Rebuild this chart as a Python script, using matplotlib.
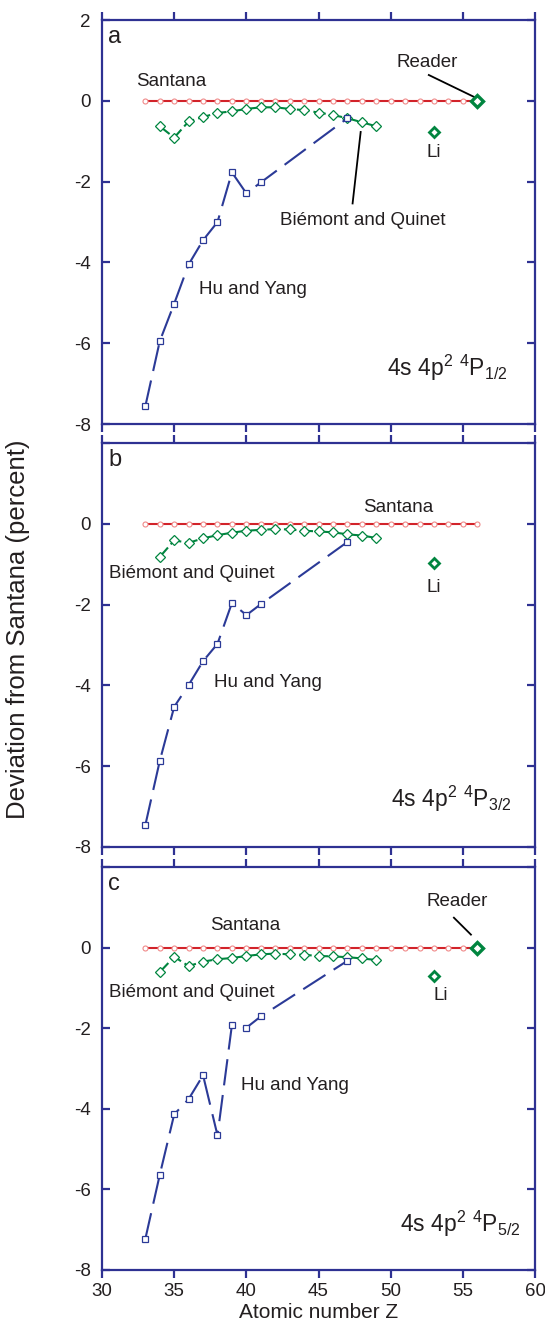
import matplotlib.pyplot as plt
from matplotlib import ticker

plt.rcParams['font.family'] = ['Liberation Sans', 'DejaVu Sans']
plt.rcParams['mathtext.fontset'] = 'custom'
plt.rcParams['mathtext.rm'] = 'Liberation Sans'
plt.rcParams['mathtext.it'] = 'Liberation Sans:italic'
plt.rcParams['lines.scale_dashes'] = False

# atomic numbers for each data set
z_santana = [33, 34, 35, 36, 37, 38, 39, 40, 41, 42, 43, 44,
             45, 46, 47, 48, 49, 50, 51, 52, 53, 54, 55, 56]
z_bq = [34, 35, 36, 37, 38, 39, 40, 41, 42, 43, 44, 45, 46, 47, 48, 49]
z_hy = [33, 34, 35, 36, 37, 38, 39, 40, 41, 47]
z_li = 53
z_reader = 56

santana = [0.0, 0.0, 0.0, 0.0, 0.0, 0.0, 0.0, 0.0, 0.0, 0.0, 0.0, 0.0,
           0.0, 0.0, 0.0, 0.0, 0.0, 0.0, 0.0, 0.0, 0.0, 0.0, 0.0, 0.0]

# 4s4p2 4P1/2
bq_a = [-0.63, -0.91, -0.51, -0.40, -0.30, -0.26, -0.20, -0.16,
        -0.16, -0.20, -0.23, -0.29, -0.35, -0.43, -0.53, -0.63]
hy_a = [-7.56, -5.95, -5.02, -4.05, -3.45, -3.00, -1.77, -2.29, -2.02, -0.43]
li_a = -0.76
reader_a = 0.0

# 4s4p2 4P3/2
bq_b = [-0.82, -0.41, -0.47, -0.36, -0.28, -0.22, -0.17, -0.15,
        -0.13, -0.14, -0.17, -0.19, -0.21, -0.26, -0.29, -0.35]
hy_b = [-7.46, -5.87, -4.53, -3.99, -3.40, -2.97, -1.96, -2.26, -1.99, -0.45]
li_b = -0.98

# 4s4p2 4P5/2
bq_c = [-0.61, -0.23, -0.46, -0.35, -0.29, -0.26, -0.21, -0.17,
        -0.15, -0.17, -0.18, -0.21, -0.22, -0.24, -0.27, -0.31]
hy_c = [-7.23, -5.64, -4.14, -3.76, -3.17, -4.66, -1.92, -1.99, -1.71, -0.33]
li_c = -0.70
reader_c = 0.0

x_ticks = [30, 35, 40, 45, 50, 55, 60]
y_ticks = [2, 0, -2, -4, -6, -8]

AXIS_BLUE = '#2e3192'
HY_BLUE = '#2b3a97'
GREEN = '#00853f'
RED = '#d2232a'
PINK = '#f08a8a'
TEXT = '#231f20'
FS = 13.5


def setup_axes(ax, show_top_label, show_xlabels):
    ax.set_xlim(30, 60)
    ax.set_ylim(-8, 2)
    for side in ax.spines.values():
        side.set_color(AXIS_BLUE)
        side.set_linewidth(1.6)
    ax.set_xticks(x_ticks)
    ax.set_yticks(y_ticks)
    ax.tick_params(axis='x', direction='out', length=6, width=1.6,
                   color=AXIS_BLUE, top=True, bottom=True,
                   labelbottom=show_xlabels, labelsize=FS,
                   labelcolor=TEXT, pad=3.5)
    ax.tick_params(axis='y', direction='in', length=6, width=1.6,
                   color=AXIS_BLUE, left=True, right=True,
                   labelsize=FS, labelcolor=TEXT, pad=8)
    labels = ['2' if show_top_label else '', '0', '-2', '-4', '-6', '-8']
    ax.yaxis.set_major_formatter(ticker.FixedFormatter(labels))


def draw_series(ax, bq, hy, li, reader=None):
    ax.plot(z_santana, santana, color=RED, lw=1.5, marker='o', ms=3.6,
            mfc='white', mec=PINK, mew=0.8, zorder=3)
    ax.plot(z_bq, bq, color=GREEN, lw=1.5, ls=(0, (9, 3)), marker='D',
            ms=4.8, mfc='white', mec=GREEN, mew=0.9, zorder=4)
    ax.plot(z_hy, hy, color=HY_BLUE, lw=1.5, ls=(0, (19, 7)), marker='s',
            ms=4.5, mfc='white', mec=HY_BLUE, mew=0.9, zorder=5)
    ax.plot([z_li], [li], ls='none', marker='D', ms=5, mfc='white',
            mec=GREEN, mew=2, zorder=6)
    if reader is not None:
        ax.plot([z_reader], [reader], ls='none', marker='D', ms=6,
                mfc='white', mec=GREEN, mew=2.4, zorder=6)


fig = plt.figure(figsize=(5.45, 13.28), dpi=100)
ax_a = fig.add_axes([0.1872, 0.6807, 0.7945, 0.3042])
ax_b = fig.add_axes([0.1872, 0.3622, 0.7945, 0.3042])
ax_c = fig.add_axes([0.1872, 0.0437, 0.7945, 0.3035])

txt = dict(fontsize=FS, color=TEXT, ha='center', va='center')
state = dict(fontsize=16.5, color=TEXT, ha='right', va='center')

# panel a
setup_axes(ax_a, True, False)
draw_series(ax_a, bq_a, hy_a, li_a, reader_a)
ax_a.text(0.014, 0.985, 'a', transform=ax_a.transAxes, fontsize=17,
          color=TEXT, va='top', ha='left')
ax_a.text(34.8, 0.47, 'Santana', **txt)
ax_a.text(52.5, 0.96, 'Reader', **txt)
ax_a.plot([52.64, 55.76], [0.64, 0.1], color='black', lw=1.3)
ax_a.text(53.0, -1.28, 'Li', **txt)
ax_a.text(48.05, -2.96, 'Biémont and Quinet', **txt)
ax_a.plot([47.92, 47.36], [-0.77, -2.54], color='black', lw=1.3)
ax_a.text(40.45, -4.67, 'Hu and Yang', **txt)
ax_a.text(58.1, -6.6, r'4s 4p$^{2}$ $^{4}$P$_{1/2}$', **state)

# panel b
setup_axes(ax_b, False, False)
draw_series(ax_b, bq_b, hy_b, li_b)
ax_b.text(0.014, 0.985, 'b', transform=ax_b.transAxes, fontsize=17,
          color=TEXT, va='top', ha='left')
ax_b.text(50.55, 0.40, 'Santana', **txt)
ax_b.text(36.25, -1.23, 'Biémont and Quinet', **txt)
ax_b.text(53.0, -1.58, 'Li', **txt)
ax_b.text(41.5, -3.93, 'Hu and Yang', **txt)
ax_b.text(58.4, -6.8, r'4s 4p$^{2}$ $^{4}$P$_{3/2}$', **state)

# panel c
setup_axes(ax_c, False, True)
draw_series(ax_c, bq_c, hy_c, li_c, reader_c)
ax_c.text(0.014, 0.985, 'c', transform=ax_c.transAxes, fontsize=17,
          color=TEXT, va='top', ha='left')
ax_c.text(54.6, 1.14, 'Reader', **txt)
ax_c.plot([54.38, 55.56], [0.74, 0.32], color='black', lw=1.3)
ax_c.text(39.93, 0.54, 'Santana', **txt)
ax_c.text(36.25, -1.11, 'Biémont and Quinet', **txt)
ax_c.text(53.5, -1.19, 'Li', **txt)
ax_c.text(43.37, -3.43, 'Hu and Yang', **txt)
ax_c.text(59.0, -6.86, r'4s 4p$^{2}$ $^{4}$P$_{5/2}$', **state)
ax_c.set_xlabel('Atomic number Z', fontsize=15, color=TEXT, labelpad=2)

fig.text(0.033, 0.526, 'Deviation from Santana (percent)', rotation=90,
         fontsize=18.5, color=TEXT, ha='center', va='center')

fig.savefig('out.png', dpi=100)
